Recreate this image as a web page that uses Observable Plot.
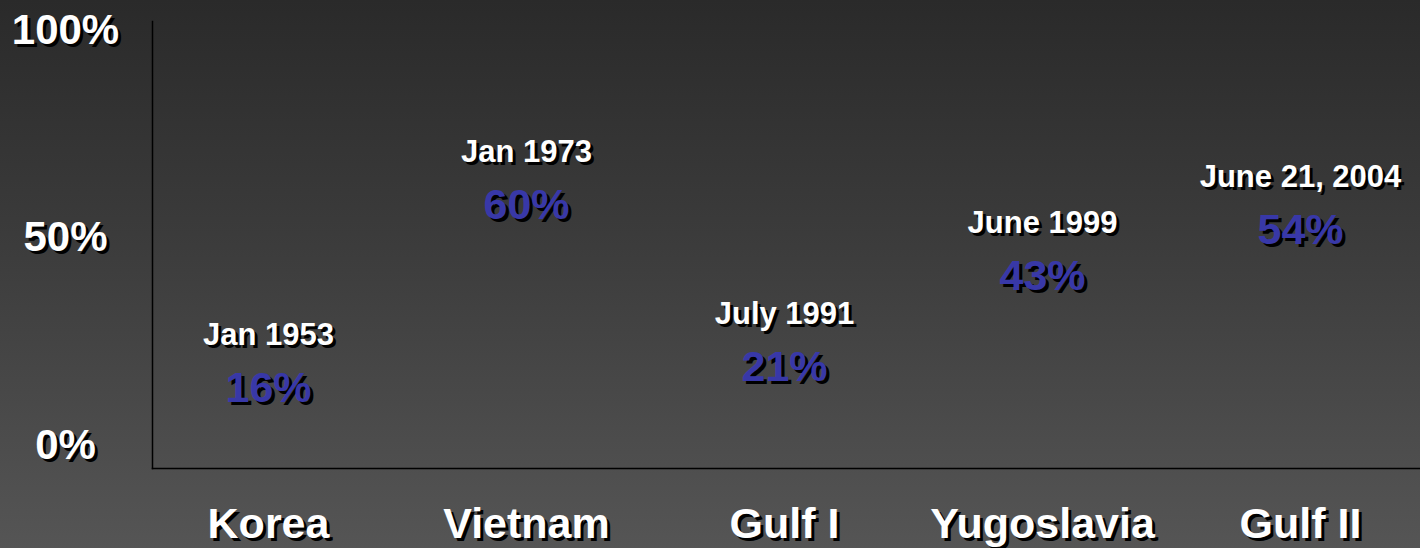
<!DOCTYPE html>
<html>
<head>
<meta charset="utf-8">
<script src="https://cdn.jsdelivr.net/npm/d3@7"></script>
<script src="https://cdn.jsdelivr.net/npm/@observablehq/plot@0.6"></script>
<style>
  html, body { margin: 0; padding: 0; width: 1420px; height: 548px; overflow: hidden; }
  body { background: linear-gradient(to bottom, #2a2a2a 0%, #3c3c3c 45%, #555555 100%); }
  #chart svg { display: block; background: transparent; }
  #chart svg text { text-shadow: 3px 3px 0 #000; }
</style>
</head>
<body>
<div id="chart"></div>
<script>
const categories = ["Korea", "Vietnam", "Gulf I", "Yugoslavia", "Gulf II"];
const dates = ["Jan 1953", "Jan 1973", "July 1991", "June 1999", "June 21, 2004"];
const approval = [16, 60, 21, 43, 54];
const yTicks = [0, 50, 100];

const data = categories.map((c, i) => ({category: c, date: dates[i], value: approval[i]}));

const font = "'Liberation Sans', Arial, sans-serif";

const chart = Plot.plot({
  width: 1420,
  height: 548,
  marginLeft: 152,
  marginRight: 0,
  marginTop: 21,
  marginBottom: 80,
  insetTop: 9,
  insetBottom: 23,
  insetLeft: 116,
  insetRight: 120,
  style: {fontFamily: font, background: "transparent"},
  x: {type: "point", domain: categories, padding: 0, axis: null},
  y: {domain: [0, 100], axis: null},
  marks: [
    Plot.frame({anchor: "left", stroke: "#000", strokeWidth: 1.5}),
    Plot.frame({anchor: "bottom", stroke: "#000", strokeWidth: 1.5}),
    Plot.text(yTicks, {
      y: d => d, text: d => d + "%", frameAnchor: "left", dx: -87,
      textAnchor: "middle", fontSize: 42, fontWeight: "bold", fill: "white"
    }),
    Plot.text(data, {
      x: "category", text: "category", frameAnchor: "bottom", dy: 69,
      fontSize: 43, fontWeight: "bold", fill: "white"
    }),
    Plot.text(data, {
      x: "category", y: "value", text: "date", dy: -44,
      fontSize: 31, fontWeight: "bold", fill: "white"
    }),
    Plot.text(data, {
      x: "category", y: "value", text: d => d.value + "%", dy: 9,
      fontSize: 43, fontWeight: "bold", fill: "#3838a8"
    })
  ]
});
document.getElementById("chart").appendChild(chart);
</script>
</body>
</html>
